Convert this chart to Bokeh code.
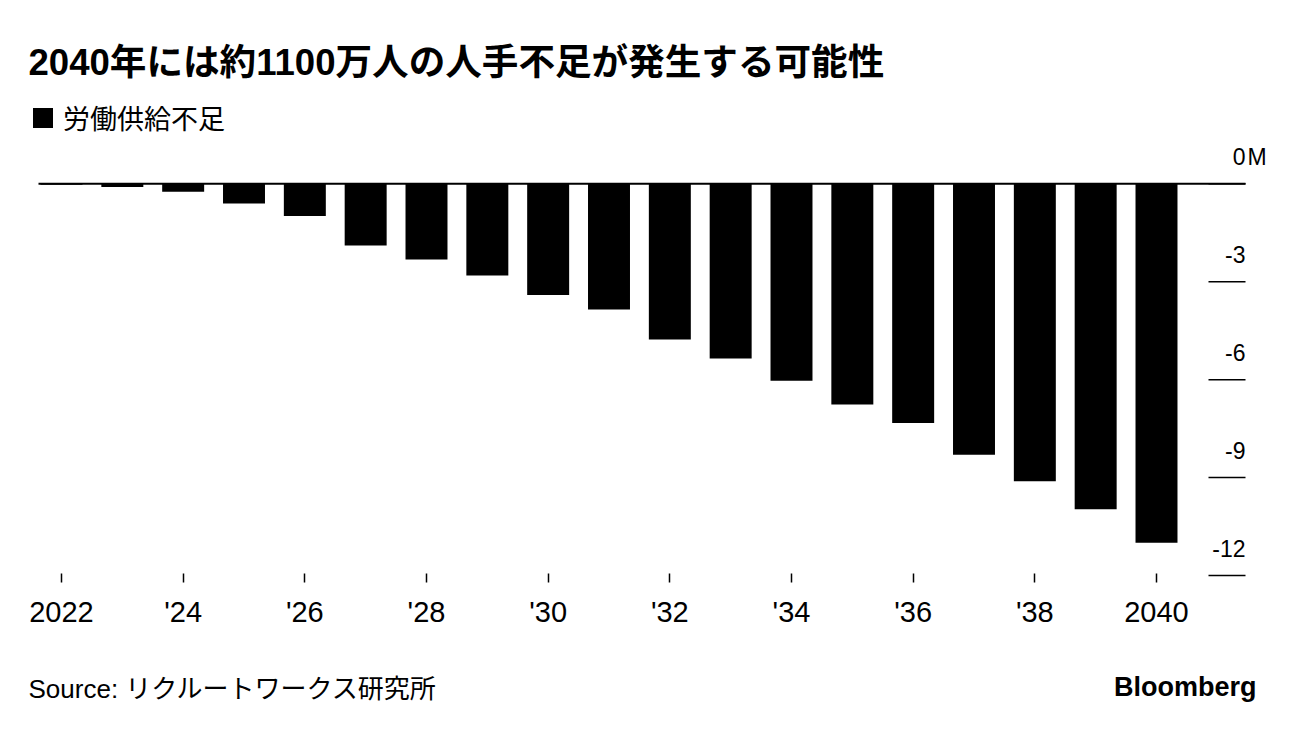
from bokeh.plotting import figure
from bokeh.layouts import column
from bokeh.models import Range1d, FixedTicker, Label, Legend, LegendItem, ColumnDataSource
from bokeh.core.properties import value
from bokeh.embed import file_html
from bokeh.resources import INLINE

# ---- data (millions of workers, labour supply shortfall) ----
years = [2022, 2023, 2024, 2025, 2026, 2027, 2028, 2029, 2030, 2031,
         2032, 2033, 2034, 2035, 2036, 2037, 2038, 2039, 2040]
shortfall = [-0.03, -0.10, -0.24, -0.60, -0.99, -1.89, -2.32, -2.81, -3.41, -3.85,
             -4.77, -5.35, -6.03, -6.76, -7.33, -8.30, -9.11, -9.97, -11.00]
x_ticks = [2022, 2024, 2026, 2028, 2030, 2032, 2034, 2036, 2038, 2040]
x_tick_labels = ["2022", "'24", "'26", "'28", "'30", "'32", "'34", "'36", "'38", "2040"]
y_ticks = [0, -3, -6, -9, -12]
y_tick_labels = ["0", "-3", "-6", "-9", "-12"]
y_unit = "M"

title_text = "2040年には約1100万人の人手不足が発生する可能性"
legend_text = "労働供給不足"
source_text = "Source: リクルートワークス研究所"
brand_text = "Bloomberg"

FONT = "Liberation Sans, Noto Sans CJK JP"

# ---- layout constants (page pixels) ----
W = 1280
HEADER_H = 98           # title strip
FRAME_TOP = HEADER_H    # main frame starts right below the title strip
FRAME_BOTTOM = 577
MAIN_BOTTOM = 657
TOTAL_H = 728
AXIS_LEFT = 38          # left end of the zero line
AXIS_RIGHT = 1245       # right end of the zero line / tick dashes

ppy = (1156 - 61) / 18  # pixels per year
x_start = years[0] - 61 / ppy
x_end = x_start + W / ppy
x_axis_start = x_start + AXIS_LEFT / ppy
x_axis_end = x_start + AXIS_RIGHT / ppy

zero_px = 183.3
ppm = (575 - zero_px) / 12  # pixels per million
y_end = (zero_px - FRAME_TOP) / ppm
y_start = -(FRAME_BOTTOM - zero_px) / ppm


def bare(fig):
    fig.outline_line_color = None
    fig.background_fill_color = "white"
    fig.border_fill_color = "white"
    fig.xgrid.visible = False
    fig.ygrid.visible = False
    return fig


# ---------------- header ----------------
hdr = bare(figure(width=W, height=HEADER_H, output_backend="svg", toolbar_location=None,
                  x_range=Range1d(0, W), y_range=Range1d(0, HEADER_H),
                  x_axis_location=None, y_axis_location=None,
                  min_border=0, min_border_left=0, min_border_right=0,
                  min_border_top=0, min_border_bottom=0))
hdr.add_layout(Label(x=28, y=HEADER_H - 62, text=title_text, text_font=FONT,
                     text_font_size="36.6px", text_font_style="bold",
                     text_color="black", text_baseline="middle", text_align="left"))

# ---------------- main chart ----------------
p = bare(figure(width=W, height=MAIN_BOTTOM - FRAME_TOP, output_backend="svg",
                toolbar_location=None,
                x_range=Range1d(x_start, x_end), y_range=Range1d(y_start, y_end),
                min_border=0, min_border_left=0, min_border_right=0,
                min_border_top=0, min_border_bottom=MAIN_BOTTOM - FRAME_BOTTOM,
                y_axis_location=None))

bars = p.vbar(x=years, top=shortfall, bottom=0, width=0.69,
              fill_color="black", line_color=None)

# zero line
p.segment(x0=[x_axis_start], x1=[x_axis_end], y0=[0], y1=[0],
          line_color="black", line_width=2)

# x axis
ax = p.xaxis[0]
ax.ticker = FixedTicker(ticks=x_ticks)
ax.major_label_overrides = {t: l for t, l in zip(x_ticks, x_tick_labels)}
ax.axis_line_color = None
ax.minor_tick_line_color = None
ax.major_tick_in = 4
ax.major_tick_out = 5
ax.major_tick_line_color = "black"
ax.major_tick_line_width = 1.5
ax.major_label_text_font = FONT
ax.major_label_text_font_size = "29px"
ax.major_label_text_color = "black"
ax.major_label_standoff = 13

# right-hand value labels inside the frame
tick_len = 37 / ppy
src_y = ColumnDataSource(dict(
    y=y_ticks, label=y_tick_labels,
    x0=[x_axis_end - tick_len] * len(y_ticks), x1=[x_axis_end] * len(y_ticks),
    xt=[x_axis_end] * len(y_ticks)))
p.segment(x0="x0", x1="x1", y0="y", y1="y", source=src_y,
          line_color="black", line_width=1.5)
p.text(x="xt", y="y", text="label", source=src_y, text_align="right",
       text_baseline="alphabetic", x_offset=0, y_offset=-27,
       text_font=value(FONT), text_font_size="23px", text_color="black")
p.text(x=[x_axis_end], y=[y_ticks[0]], text=[y_unit], text_align="left",
       text_baseline="alphabetic", x_offset=2, y_offset=-27,
       text_font=value(FONT), text_font_size="23px", text_color="black")

# legend inside the (top) frame area
legend = Legend(items=[LegendItem(label=legend_text, renderers=[bars])],
                location=(30, FRAME_BOTTOM - 137), orientation="horizontal",
                glyph_width=25, glyph_height=25, label_standoff=8,
                padding=0, margin=0, spacing=0,
                border_line_color=None, background_fill_alpha=0,
                label_text_font=FONT, label_text_font_size="27px",
                label_text_color="black")
p.add_layout(legend, "center")

# ---------------- footer ----------------
FOOT_H = TOTAL_H - MAIN_BOTTOM
ftr = bare(figure(width=W, height=FOOT_H, output_backend="svg", toolbar_location=None,
                  x_range=Range1d(0, W), y_range=Range1d(0, FOOT_H),
                  x_axis_location=None, y_axis_location=None,
                  min_border=0, min_border_left=0, min_border_right=0,
                  min_border_top=0, min_border_bottom=0))
ftr.add_layout(Label(x=28, y=TOTAL_H - 688, text=source_text, text_font=FONT,
                     text_font_size="26px", text_color="black",
                     text_baseline="middle", text_align="left"))
ftr.add_layout(Label(x=1256, y=TOTAL_H - 686, text=brand_text, text_font=FONT,
                     text_font_size="27px", text_font_style="bold", text_color="black",
                     text_baseline="middle", text_align="right"))

layout = column(hdr, p, ftr, spacing=0)
open("out.html", "w").write(file_html(layout, INLINE))
